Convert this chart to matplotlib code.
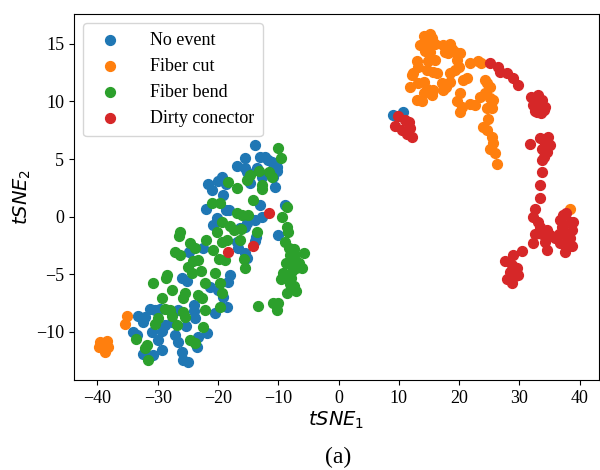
import matplotlib.pyplot as plt

# t-SNE embedding, one pair of lists per class
no_event_x = [-13.8, -13.0, -12.2, -11.7, -11.0, -10.2, -10.2, -10.9, -10.5, -15.5,
              -16.8, -15.5, -15.2, -13.5, -12.7, -14.7, -21.6, -21.0, -20.0, -19.3,
              -18.7, -19.2, -22.0, -18.7, -18.2, -20.1, -20.8, -13.0, -8.9, -12.7,
              -13.8, -15.2, -15.5, -16.3, -10.0, -16.8, -16.7, -13.8, -13.7, -15.5,
              -15.2, -22.5, -18.0, -18.3, -21.3, -20.0, -19.2, -24.0, -24.0, -23.8,
              -20.5, -18.5, -21.8, -23.3, -23.5, -25.8, -25.0, -25.3, -24.8, -26.0,
              -25.1, -31.3, -30.4, -29.6, -26.6, -33.2, -32.1, -32.4, -28.8, -29.3,
              -27.6, -34.1, -33.4, -30.9, -27.1, -26.6, -29.9, -32.4, -30.8, -29.3,
              -26.0, 9.1, 10.7]
no_event_y = [6.2, 5.2, 5.2, 4.9, 4.7, 4.3, 4.0, 3.4, 2.6, 5.1,
              4.4, 4.2, 3.9, 4.2, 3.4, 2.9, 2.8, 2.3, 3.1, 3.4,
              2.8, 1.9, 0.7, 0.6, 0.6, -0.1, -0.7, 1.0, 1.0, 0.0,
              -0.3, -0.6, -0.9, -1.0, -1.6, -2.2, -2.7, -2.1, -1.8, -3.2,
              -3.6, -2.7, -5.1, -5.7, -6.1, -6.4, -7.0, -7.7, -8.2, -8.8,
              -8.4, -7.9, -10.1, -10.5, -11.3, -12.5, -12.6, -9.5, -3.1, -5.3,
              -5.6, -8.0, -8.1, -8.0, -8.1, -8.6, -8.7, -9.2, -9.4, -9.9,
              -9.2, -10.0, -10.3, -10.0, -10.3, -10.9, -10.7, -11.9, -12.0, -11.6,
              -11.8, 8.8, 9.1]

fiber_cut_x = [-35.1, -35.4, -39.6, -38.4, -39.0, -38.7, -39.8, -38.2,
               15.2, 14.1, 15.5, 13.5, 14.6, 16.0, 14.3, 15.2, 17.4, 18.5,
               17.7, 18.2, 19.3, 20.1, 18.8, 21.8, 23.2, 23.7, 13.0, 12.4,
               12.1, 13.2, 14.9, 16.0, 14.6, 15.7, 16.3, 18.5, 19.3, 19.9,
               19.6, 13.2, 14.1, 11.9, 14.6, 15.7, 14.1, 15.5, 13.0, 13.8,
               17.1, 17.9, 17.4, 18.5, 20.7, 21.3, 20.1, 19.6, 20.4, 20.1,
               21.8, 22.6, 23.5, 24.3, 24.6, 25.1, 24.3, 25.1, 25.7, 24.6,
               25.4, 24.8, 24.0, 24.6, 25.4, 25.7, 25.1, 26.0, 26.2, 38.4]
fiber_cut_y = [-8.6, -9.3, -10.9, -10.8, -11.3, -11.8, -11.3, -11.3,
               15.9, 15.7, 15.5, 14.9, 15.1, 15.0, 14.4, 14.3, 14.9, 15.0,
               14.3, 14.2, 14.3, 14.2, 14.6, 13.3, 13.5, 13.3, 13.5, 12.5,
               12.3, 13.0, 13.5, 13.6, 12.7, 12.6, 12.5, 12.5, 12.7, 13.0,
               13.6, 11.6, 11.7, 11.3, 11.1, 11.0, 10.7, 10.6, 10.1, 10.0,
               11.6, 11.3, 11.0, 11.7, 11.9, 12.0, 10.7, 10.0, 9.5, 9.1,
               9.8, 9.7, 10.4, 10.7, 11.6, 11.3, 11.9, 10.3, 10.1, 9.4,
               9.4, 8.5, 7.8, 7.5, 6.9, 6.4, 5.9, 5.5, 4.6, 0.7]

fiber_bend_x = [-10.0, -9.5, -13.2, -11.5, -11.0, -14.7, -15.2, -12.7, -12.7, -18.3,
                -16.8, -14.2, -21.0, -19.7, -16.8, -16.0, -15.0, -19.3, -18.0, -17.3,
                -16.2, -13.5, -20.1, -19.3, -18.5, -16.3, -22.0, -24.6, -23.8, -26.3,
                -26.5, -27.1, -26.3, -25.0, -24.3, -28.4, -28.6, -24.1, -23.3, -22.8,
                -20.8, -19.8, -18.8, -15.7, -15.5, -20.5, -30.8, -27.6, -25.5, -25.8,
                -29.3, -22.1, -19.7, -19.3, -23.3, -22.6, -28.8, -27.9, -27.6, -25.8,
                -25.5, -29.9, -30.4, -26.8, -22.1, -19.7, -13.3, -10.9, -10.2, -10.0,
                -22.5, -24.6, -23.8, -33.6, -31.8, -32.1, -31.6,
                -8.5, -9.4, -8.5, -8.4, -8.9, -8.2, -7.4, -8.0, -7.2, -5.7,
                -8.7, -7.7, -6.6, -6.1, -7.0, -7.7, -9.2, -9.5, -7.9, -8.0,
                -7.4, -8.5, -7.0]
fiber_bend_y = [6.0, 5.1, 4.0, 3.9, 3.4, 3.6, 3.2, 2.7, 2.4, 3.0,
                2.5, 1.4, 1.2, 1.2, 0.3, 0.1, 0.1, -0.5, -0.8, -1.2,
                -1.1, -1.3, -1.3, -2.2, -2.0, -2.0, -2.0, -2.3, -2.7, -1.3,
                -1.7, -3.1, -3.3, -4.4, -4.9, -5.1, -5.3, -3.9, -3.8, -4.7,
                -2.9, -3.7, -3.8, -3.7, -4.5, -4.9, -5.8, -6.4, -6.6, -7.1,
                -7.1, -5.8, -5.8, -6.6, -6.8, -7.1, -8.0, -8.1, -8.6, -8.3,
                -8.7, -8.8, -9.3, -9.4, -8.1, -7.9, -7.8, -7.5, -8.1, -7.5,
                -9.6, -10.7, -11.0, -10.6, -11.2, -11.4, -12.5,
                0.8, 0.0, -0.9, -1.3, -2.2, -2.7, -2.8, -3.3, -3.3, -3.2,
                -4.0, -4.0, -4.0, -4.5, -4.5, -4.7, -4.9, -5.4, -5.3, -5.9,
                -6.0, -6.6, -6.5]

dirty_x = [-11.5, -14.2, -18.3,
           9.9, 9.4, 11.0, 11.6, 10.5, 11.9, 11.3, 12.1,
           25.1, 26.5, 26.8, 27.9, 29.0, 29.8,
           32.0, 33.1, 32.6, 33.7, 34.2, 32.9, 33.4, 34.0, 32.3, 32.8, 33.6, 32.6,
           33.4, 34.8, 34.2, 35.1, 33.7, 34.5, 31.8, 34.0, 33.7, 33.7, 33.4, 33.4,
           32.6, 32.3, 33.1, 33.4, 32.6, 33.7, 34.5, 35.1, 34.2, 34.5, 32.3,
           36.7, 37.3, 37.8, 37.0, 36.5, 37.6, 38.4, 38.9, 38.7, 38.4, 37.8, 37.6,
           38.7, 35.9, 36.7, 30.4,
           29.0, 27.6, 28.7, 29.6, 28.4, 27.9, 29.3, 28.7, 29.8]
dirty_y = [0.3, -2.6, -3.1,
           8.7, 7.9, 8.4, 8.2, 7.5, 7.7, 7.2, 6.9,
           13.3, 13.0, 12.6, 12.5, 12.0, 11.4,
           10.4, 10.6, 9.8, 10.1, 9.5, 9.1, 9.7, 9.3, 9.7, 10.2, 9.0, 9.2,
           6.8, 6.9, 6.4, 6.2, 5.9, 5.6, 6.3, 5.2, 4.9, 3.9, 2.7, 1.6,
           0.7, 0.0, -0.5, -0.9, -1.5, -1.5, -1.2, -1.6, -2.2, -2.9, -2.3,
           -0.3, 0.1, 0.3, -0.9, -1.5, -1.5, -0.5, -0.5, -1.2, -1.9, -2.3, -3.1,
           -2.6, -1.9, -2.3, -3.0,
           -3.3, -3.9, -4.2, -4.5, -4.8, -5.4, -5.2, -5.8, -5.1]

plt.rcParams["font.family"] = ["Liberation Serif", "DejaVu Serif"]

fig = plt.figure(figsize=(6, 4.7), dpi=100)
ax = fig.add_axes([0.1233, 0.1915, 0.875, 0.7787])

ax.scatter(no_event_x, no_event_y, s=50, color="C0", label="No event")
ax.scatter(fiber_cut_x, fiber_cut_y, s=50, color="C1", label="Fiber cut")
ax.scatter(fiber_bend_x, fiber_bend_y, s=50, color="C2", label="Fiber bend")
ax.scatter(dirty_x, dirty_y, s=50, color="C3", label="Dirty conector")

ax.set_xlim(-43.9, 43.2)
ax.set_ylim(-14.2, 17.6)
ax.set_xticks([-40, -30, -20, -10, 0, 10, 20, 30, 40])
ax.set_yticks([-10, -5, 0, 5, 10, 15])
ax.tick_params(labelsize=13)

ax.set_xlabel("$tSNE_1$", fontsize=14, labelpad=2)
ax.set_ylabel("$tSNE_2$", fontsize=14, labelpad=2)

ax.legend(loc="upper left", fontsize=13, handletextpad=1.2, borderpad=0.5)

# subfigure tag under the axis label
fig.text(0.563, 0.026, "(a)", ha="center", va="center", fontsize=17)

fig.savefig("out.png", dpi=100)
